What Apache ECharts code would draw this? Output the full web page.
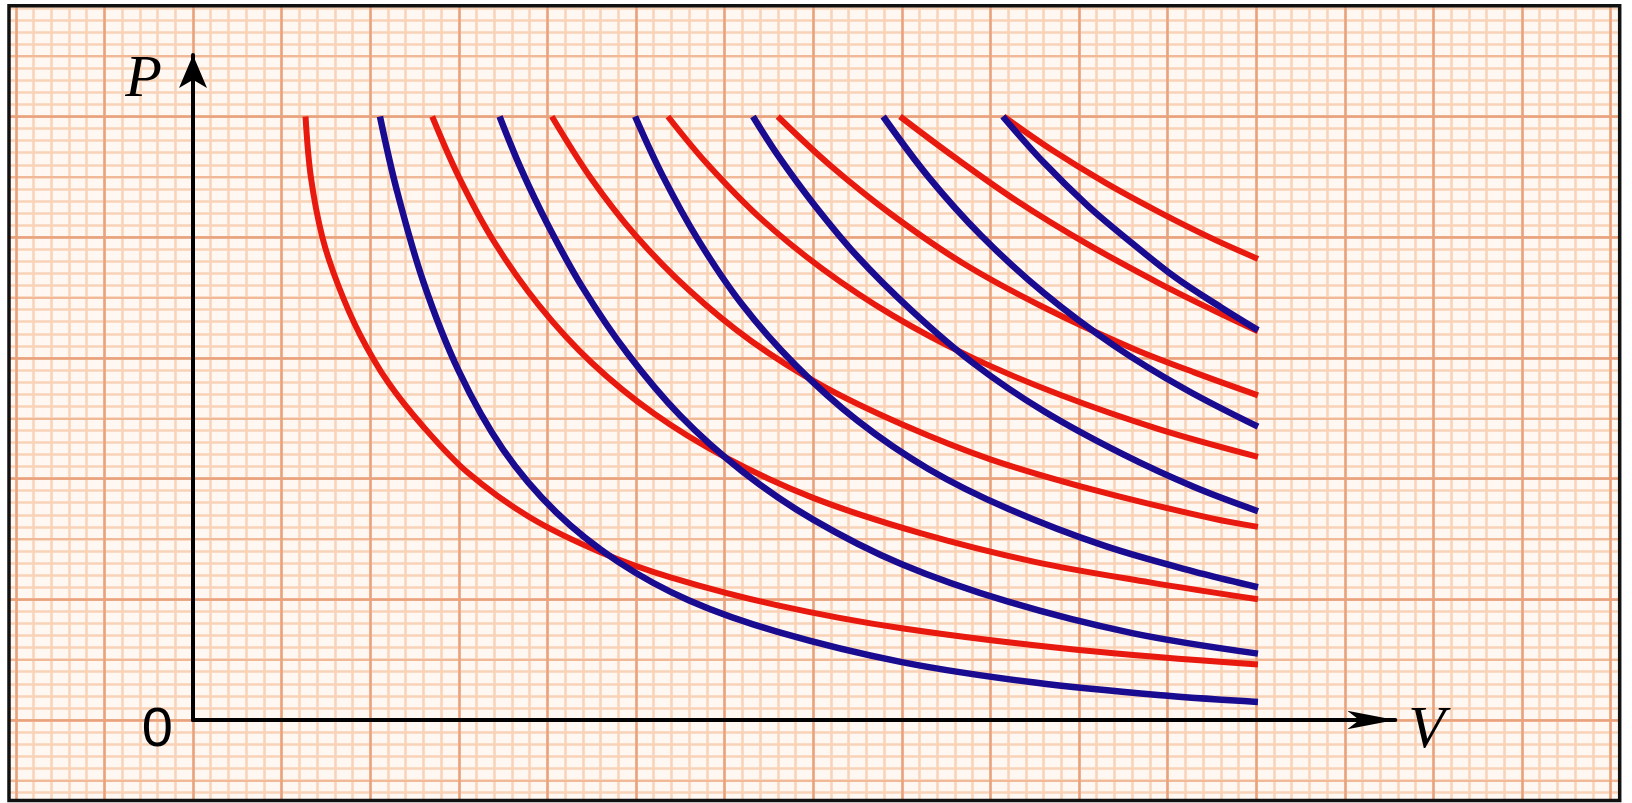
<!DOCTYPE html>
<html>
<head>
<meta charset="utf-8">
<title>p-V isotherms and adiabats</title>
<script src="https://cdn.jsdelivr.net/npm/echarts@6.0.0/dist/echarts.min.js"></script>
<style>
  html, body { margin: 0; padding: 0; background: #ffffff; }
  #chart { width: 1632px; height: 803px; }
</style>
</head>
<body>
<div id="chart"></div>
<script>
// red = isotherms, blue = adiabats, points [V, p]
// one unit = one heavy square of the paper
var red1 = [[1.27, 5.00], [1.33, 4.50], [1.46, 4.00], [1.64, 3.60], [1.88, 3.20], [2.20, 2.80], [2.60, 2.43], [3.10, 2.05], [3.80, 1.68], [4.60, 1.39], [5.40, 1.18], [6.60, 0.95], [8.00, 0.76], [10.00, 0.58], [12.02, 0.46]];
var red2 = [[2.70, 5.00], [3.00, 4.50], [3.40, 3.96], [3.90, 3.44], [4.50, 2.96], [5.20, 2.54], [6.00, 2.18], [7.00, 1.84], [8.20, 1.55], [9.50, 1.31], [10.80, 1.14], [12.02, 1.00]];
var red3 = [[4.05, 5.00], [4.50, 4.48], [5.00, 4.01], [5.60, 3.56], [6.30, 3.14], [7.10, 2.77], [8.00, 2.45], [9.00, 2.16], [10.20, 1.90], [11.50, 1.67], [12.02, 1.60]];
var red4 = [[5.36, 5.00], [5.80, 4.61], [6.40, 4.16], [7.10, 3.74], [7.90, 3.35], [8.80, 3.00], [9.80, 2.69], [10.90, 2.41], [12.02, 2.18]];
var red5 = [[6.60, 5.00], [7.20, 4.59], [7.90, 4.18], [8.70, 3.78], [9.60, 3.42], [10.60, 3.08], [11.30, 2.88], [12.02, 2.69]];
var red6 = [[7.98, 5.00], [8.60, 4.66], [9.30, 4.30], [10.10, 3.94], [10.90, 3.62], [11.50, 3.40], [12.02, 3.22]];
var red7 = [[9.15, 5.00], [9.70, 4.72], [10.30, 4.45], [10.90, 4.21], [11.50, 3.99], [12.02, 3.82]];

var blue1 = [[2.11, 5.00], [2.30, 4.39], [2.60, 3.63], [3.00, 2.89], [3.50, 2.24], [4.10, 1.72], [4.80, 1.31], [5.60, 0.99], [6.60, 0.73], [8.00, 0.48], [9.50, 0.31], [11.00, 0.20], [12.02, 0.15]];
var blue2 = [[3.46, 5.00], [3.70, 4.57], [4.00, 4.11], [4.40, 3.58], [4.90, 3.04], [5.50, 2.52], [6.20, 2.06], [7.00, 1.66], [8.00, 1.29], [9.20, 0.98], [10.60, 0.72], [12.02, 0.55]];
var blue3 = [[4.99, 5.00], [5.30, 4.51], [5.70, 3.98], [6.20, 3.44], [6.80, 2.94], [7.50, 2.48], [8.30, 2.08], [9.20, 1.75], [10.30, 1.44], [11.40, 1.21], [12.02, 1.10]];
var blue4 = [[6.32, 5.00], [6.60, 4.68], [7.00, 4.28], [7.50, 3.84], [8.10, 3.40], [8.80, 2.96], [9.60, 2.56], [10.50, 2.20], [11.30, 1.93], [12.02, 1.73]];
var blue5 = [[7.79, 5.00], [8.30, 4.50], [8.90, 4.01], [9.60, 3.54], [10.40, 3.10], [11.20, 2.74], [12.02, 2.43]];
var blue6 = [[9.14, 5.00], [9.60, 4.62], [10.10, 4.26], [10.60, 3.95], [11.10, 3.66], [11.60, 3.42], [12.02, 3.23]];

var redCurves = [red1, red2, red3, red4, red5, red6, red7];
var blueCurves = [blue1, blue2, blue3, blue4, blue5, blue6];

var xName = 'V';
var yName = 'P';
var originLabel = '0';

var W = 1632, H = 803;
var ox = 193, oy = 720;     // pixel where V = 0, p = 0
var kx = 88.6, ky = 120.7;  // pixels per heavy square

// grid box covering [x0, x1] x [y0, y1] in data units
function box(x0, x1, y0, y1) {
  return {
    left: ox + x0 * kx,
    right: W - (ox + x1 * kx),
    top: oy - y1 * ky,
    bottom: H - (oy - y0 * ky)
  };
}

var paperBg = '#fff8f2';
var minorColor = '#f9d3b7';
var halfColor = '#f0b998';
var majorColor = '#e8a37e';

// graph paper lines, on an oversized grid so every line lines up with the data grid
function paperAxis(dim, step, color, width, z) {
  return {
    gridIndex: 1,
    type: 'value',
    z: z,
    min: dim === 'x' ? -3 : -1,
    max: dim === 'x' ? 17 : 6,
    interval: step,
    axisLine: { show: false },
    axisTick: { show: false },
    axisLabel: { show: false },
    splitLine: { show: true, lineStyle: { color: color, width: width } }
  };
}

function curve(name, data, color, width, z) {
  return {
    name: name,
    type: 'line',
    xAxisIndex: 0,
    yAxisIndex: 0,
    data: data,
    smooth: 0.35,
    symbol: 'none',
    showSymbol: false,
    silent: true,
    z: z,
    lineStyle: { color: color, width: width },
    emphasis: { disabled: true }
  };
}

var series = [];
redCurves.forEach(function (d, i) {
  series.push(curve('isotherm ' + (i + 1), d, '#e8190e', 6, 5));
});
blueCurves.forEach(function (d, i) {
  series.push(curve('adiabat ' + (i + 1), d, '#1a0c90', 6.5, 6));
});

var letterFont = 'Liberation Serif';

var chart = echarts.init(document.getElementById('chart'));
chart.setOption({
  animation: false,
  grid: [
    Object.assign({ show: false, containLabel: false, outerBoundsMode: 'none' }, box(0, 13.57, 0, 5.51)),
    Object.assign({ show: true, backgroundColor: paperBg, borderWidth: 0, z: 0, containLabel: false, outerBoundsMode: 'none' }, box(-3, 17, -1, 6)),
    // white margin outside the frame
    { show: true, z: 8, backgroundColor: 'transparent', borderColor: '#ffffff', borderWidth: 24,
      left: -3, top: -6.3, right: 0.3, bottom: -9.5, outerBoundsMode: 'none' },
    // black frame
    { show: true, z: 9, backgroundColor: 'transparent', borderColor: '#111111', borderWidth: 3.5,
      left: 9, top: 5.7, right: 12.3, bottom: 2.5, outerBoundsMode: 'none' }
  ],
  xAxis: [
    {
      gridIndex: 0,
      type: 'value',
      min: 0,
      max: 13.57,
      z: 7,
      axisLine: {
        show: true, onZero: false,
        symbol: ['none', 'arrow'], symbolSize: [14, 48],
        lineStyle: { color: '#000000', width: 4 }
      },
      axisTick: { show: false },
      axisLabel: { show: false },
      splitLine: { show: false },
      name: xName,
      nameLocation: 'end',
      nameGap: 13,
      nameMoveOverlap: false,
      nameTextStyle: {
        fontFamily: letterFont, fontStyle: 'italic', fontSize: 60, color: '#000000',
        align: 'left', verticalAlign: 'top', lineHeight: 22
      }
    },
    paperAxis('x', 0.2, minorColor, 2.5, 1),
    paperAxis('x', 1, majorColor, 2.5, 3)
  ],
  yAxis: [
    {
      gridIndex: 0,
      type: 'value',
      min: 0,
      max: 5.51,
      interval: 1,
      z: 7,
      axisLine: {
        show: true, onZero: false,
        symbol: ['none', 'arrow'], symbolSize: [21, 33],
        lineStyle: { color: '#000000', width: 4 }
      },
      axisTick: { show: false },
      splitLine: { show: false },
      axisLabel: {
        show: true,
        margin: 20,
        showMaxLabel: false,
        formatter: function (v) { return v === 0 ? originLabel : ''; },
        fontFamily: 'Liberation Sans', fontSize: 56, color: '#000000',
        verticalAlign: 'top', lineHeight: 22
      },
      name: yName,
      nameLocation: 'end',
      nameGap: -25,
      nameMoveOverlap: false,
      nameTextStyle: {
        fontFamily: letterFont, fontStyle: 'italic', fontSize: 60, color: '#000000',
        align: 'right', verticalAlign: 'middle', padding: [0, 31, 0, 0]
      }
    },
    paperAxis('y', 0.1, minorColor, 2.5, 1),
    paperAxis('y', 0.5, halfColor, 2, 2),
    paperAxis('y', 1, majorColor, 2.5, 3)
  ],
  series: series
});
</script>
</body>
</html>
